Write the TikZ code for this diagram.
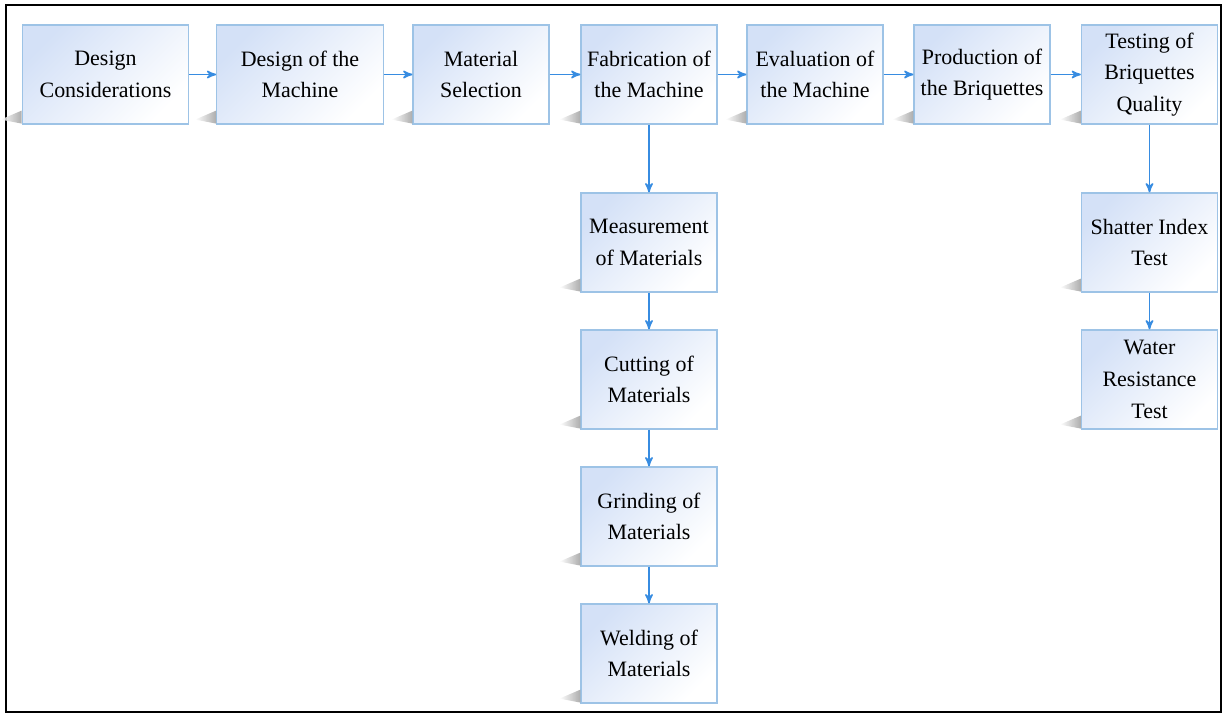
\documentclass[tikz,border=0pt]{standalone}
\usepackage{fontspec}
\setmainfont{Liberation Serif}
\usetikzlibrary{shapes.geometric, arrows}
\definecolor{boxline}{RGB}{157,195,230}
\definecolor{boxfill}{RGB}{212,225,247}
\definecolor{arrowblue}{RGB}{55,140,225}
\tikzset{
    stage/.style={draw=boxline, line width=0.7pt, top color=boxfill, bottom color=white, shading angle=45,
        align=center, minimum width=2.72cm, minimum height=1.98cm, inner sep=2pt,
        font=\fontsize{12.5}{18}\selectfont},
    widestage/.style={stage, minimum width=3.33cm},
    flow/.style={draw=arrowblue, line width=0.9pt, -stealth'},
}

\begin{document}
\begin{tikzpicture}[x=0.02cm, y=-0.02cm]
        \useasboundingbox (0,0) rectangle (1226,715);
        \draw[line width=1.1pt] (6,5) rectangle (1221,712);

        % top row
        \node[widestage] (dc) at (105.5,74.5) {Design\\Considerations};
        \node[widestage] (dm) at (300,74.5) {Design of the\\Machine};
        \node[stage] (ms) at (481,74.5) {Material\\Selection};
        \node[stage] (fm) at (649,74.5) {Fabrication of\\the Machine};
        \node[stage] (em) at (815,74.5) {Evaluation of\\the Machine};
        \node[stage] (pb) at (982,74.5) {Production of\\the Briquettes};
        \node[stage] (tq) at (1149.5,74.5) {Testing of\\Briquettes\\Quality};

        % fabrication column
        \node[stage] (mm) at (649,242.5) {Measurement\\of Materials};
        \node[stage] (cm) at (649,379.5) {Cutting of\\Materials};
        \node[stage] (gm) at (649,516.5) {Grinding of\\Materials};
        \node[stage] (wm) at (649,653.5) {Welding of\\Materials};

        % testing column
        \node[stage] (si) at (1149.5,242.5) {Shatter Index\\Test};
        \node[stage] (wr) at (1149.5,379.5) {Water\\Resistance\\Test};

        % shadows
        \foreach \n in {dc,dm,ms,fm,em,pb,tq,mm,cm,gm,wm,si,wr}
            \shade[left color=white, right color=black!38, opacity=0.85]
                ([xshift=-0.42cm,yshift=0.1cm]\n.south west) -- ([yshift=0.28cm]\n.south west)
                -- ([yshift=0.02cm]\n.south west) -- cycle;

        \draw[flow] (dc) -- (dm);
        \draw[flow] (dm) -- (ms);
        \draw[flow] (ms) -- (fm);
        \draw[flow] (fm) -- (em);
        \draw[flow] (em) -- (pb);
        \draw[flow] (pb) -- (tq);
        \draw[flow] (fm) -- (mm);
        \draw[flow] (mm) -- (cm);
        \draw[flow] (cm) -- (gm);
        \draw[flow] (gm) -- (wm);
        \draw[flow] (tq) -- (si);
        \draw[flow] (si) -- (wr);
    \end{tikzpicture}
\end{document}
